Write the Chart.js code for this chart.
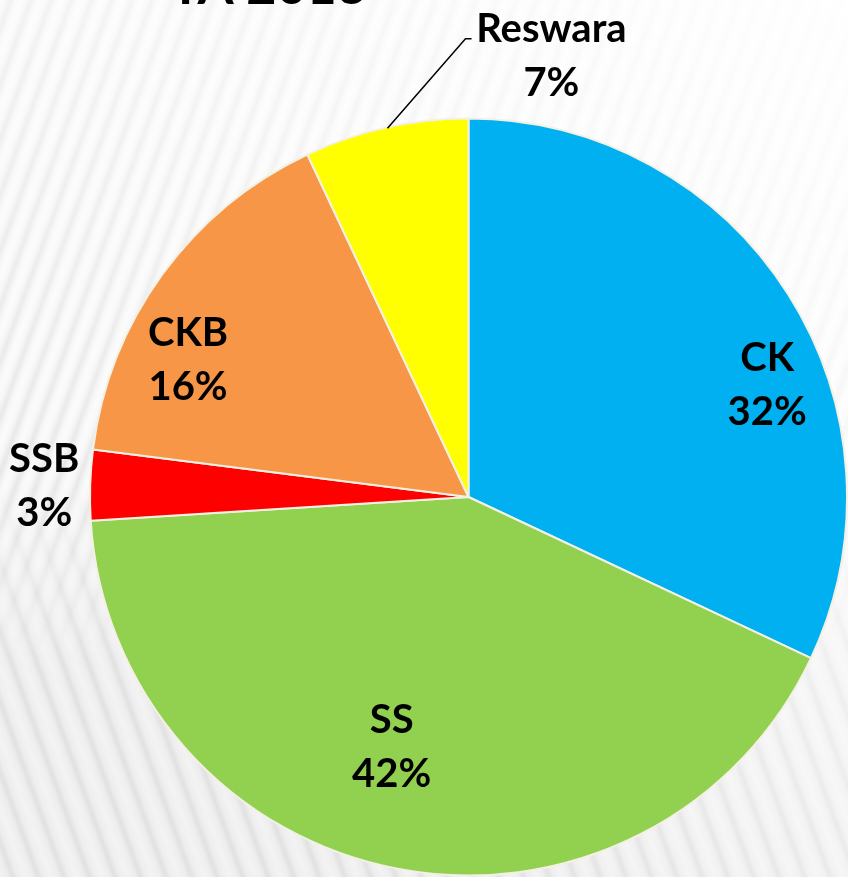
<!DOCTYPE html>
<html>
<head>
<meta charset="utf-8">
<script src="https://cdn.jsdelivr.net/npm/chart.js@4/dist/chart.umd.min.js"></script>
<style>
  html, body { margin: 0; padding: 0; }
  body { width: 848px; height: 877px; overflow: hidden; background: #f8f8f8; }
  #wrap { position: relative; width: 848px; height: 877px; }
  .bg { position: absolute; left: 0; top: 0; width: 848px; height: 877px; }
  /* upper texture: bands leaning right */
  #bgTop {
    background: repeating-linear-gradient(110deg, #fbfbfb 0px, #f6f6f6 5px, #e7e7e7 10px, #f6f6f6 15px, #fbfbfb 19px);
  }
  /* lower texture: bands leaning left */
  #bgLow {
    background: repeating-linear-gradient(70deg, #f3f3f3 0px, #eeeeee 7px, #e1e1e1 12px, #eeeeee 17px, #f3f3f3 24px);
    -webkit-mask-image: linear-gradient(to bottom, transparent 0%, transparent 55%, #000 75%, #000 100%);
    mask-image: linear-gradient(to bottom, transparent 0%, transparent 55%, #000 75%, #000 100%);
  }
  /* sheen that washes out the texture toward the upper right */
  #bgSheen {
    background: linear-gradient(220deg, rgba(255,255,255,0.95) 0%, rgba(255,255,255,0.5) 40%, rgba(255,255,255,0) 75%);
  }
  canvas { position: absolute; left: 0; top: 0; }
</style>
</head>
<body>
<div id="wrap">
  <div class="bg" id="bgTop"></div>
  <div class="bg" id="bgLow"></div>
  <div class="bg" id="bgSheen"></div>
  <canvas id="pie" width="848" height="877"></canvas>
</div>
<script>
// Share of each programme, percent
const categories = ['CK', 'SS', 'SSB', 'CKB', 'Reswara'];
const shares = [32, 42, 3, 16, 7];
const sliceColors = ['#00B0F0', '#92D050', '#FF0000', '#F79646', '#FFFF00'];
const titleText = 'TA 2013';

// Label placement, as offsets from the pie centre in units of the radius
const labelOffsets = [
  [0.789, -0.296],
  [-0.203, 0.662],
  [-1.121, -0.029],
  [-0.741, -0.361],
  [0.219, -1.166]
];
// Leader line for the small top slice (same units)
const leaderLine = [[-0.214, -0.974], [-0.008, -1.211], [0.008, -1.211]];

const FONT = 'bold 40px Lato, "Open Sans", sans-serif';

const pieLabels = {
  id: 'pieLabels',
  afterDatasetsDraw(chart) {
    const ctx = chart.ctx;
    const arcs = chart.getDatasetMeta(0).data;
    const cx = arcs[0].x, cy = arcs[0].y, r = arcs[0].outerRadius;
    ctx.save();
    // leader line for Reswara
    ctx.strokeStyle = '#000';
    ctx.lineWidth = 1.5;
    ctx.beginPath();
    leaderLine.forEach((p, i) => {
      const x = cx + p[0] * r, y = cy + p[1] * r;
      if (i === 0) ctx.moveTo(x, y); else ctx.lineTo(x, y);
    });
    ctx.stroke();

    ctx.fillStyle = '#000';
    ctx.font = FONT;
    ctx.textAlign = 'center';
    ctx.textBaseline = 'middle';
    categories.forEach((name, i) => {
      const x = cx + labelOffsets[i][0] * r;
      const y = cy + labelOffsets[i][1] * r;
      ctx.fillText(name, x, y - 27);
      ctx.fillText(shares[i] + '%', x, y + 27);
    });

    // heading, mostly above the visible area
    ctx.textAlign = 'left';
    ctx.textBaseline = 'alphabetic';
    ctx.font = 'bold 52px Lato, "Open Sans", sans-serif';
    ctx.fillText(titleText, 170, 4);
    ctx.restore();
  }
};

new Chart(document.getElementById('pie'), {
  type: 'pie',
  data: {
    labels: categories,
    datasets: [{
      data: shares,
      backgroundColor: sliceColors,
      borderColor: '#F3F0E4',
      borderWidth: 2
    }]
  },
  options: {
    responsive: false,
    animation: false,
    layout: { padding: { left: 89, right: -1, top: 117, bottom: 0 } },
    plugins: {
      legend: { display: false },
      tooltip: { enabled: false },
      title: { display: false }
    }
  },
  plugins: [pieLabels]
});
</script>
</body>
</html>
